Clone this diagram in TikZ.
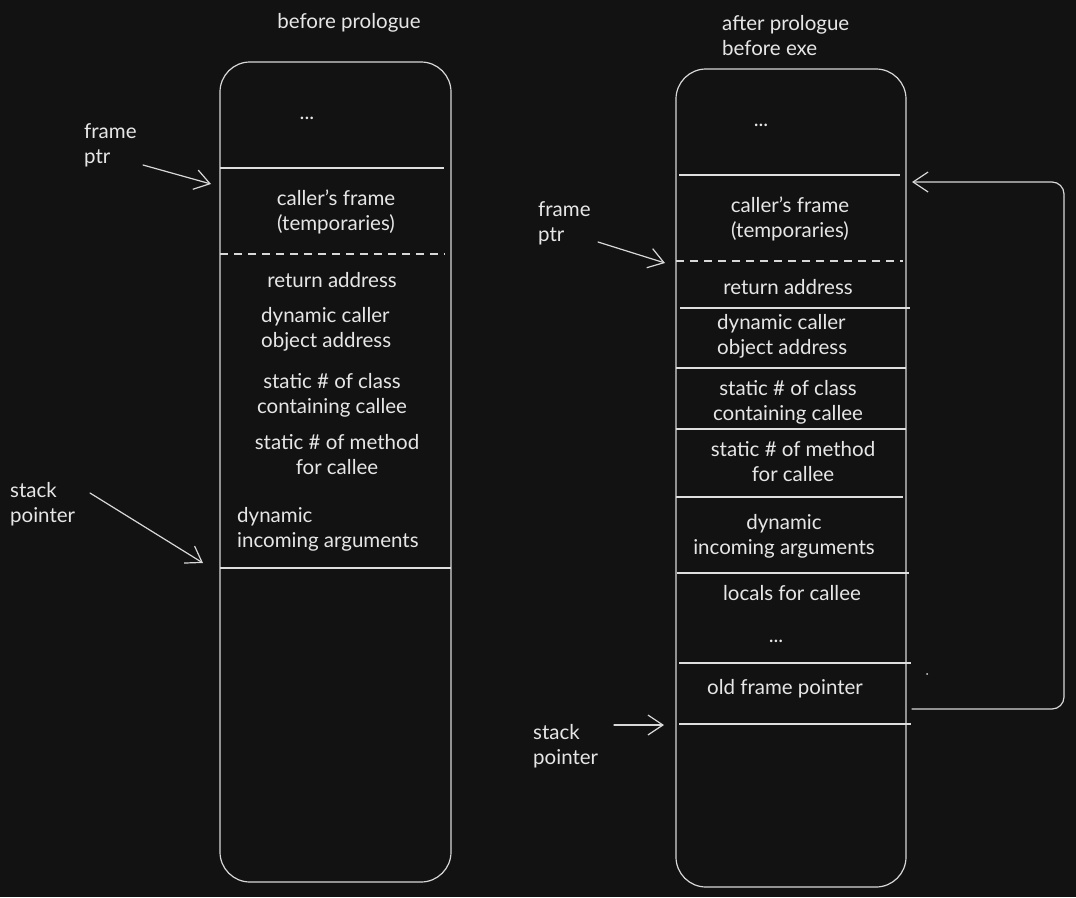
\documentclass[tikz,border=0pt]{standalone}
\usepackage{fontspec}
\setmainfont{Lato}
\usetikzlibrary{arrows.meta,positioning}
\definecolor{bgdark}{HTML}{121212}
\definecolor{inkline}{HTML}{D8D8D8}
\definecolor{inktext}{HTML}{E6E6E6}

\begin{document}
\begin{tikzpicture}[x=1pt, y=-1pt,
  font=\fontsize{20.5}{25}\selectfont,
  every node/.style={inner sep=0pt, text=inktext},
  stackbox/.style={draw=inkline, line width=1.2pt, rounded corners=30pt},
  sepline/.style={draw=inkline!85, line width=1.5pt},
  dashline/.style={draw=inkline, line width=1.2pt, dash pattern=on 8pt off 6pt},
  ptrarrow/.style={draw=inkline, line width=1.2pt, line cap=round,
    -{Straight Barb[length=15pt, width=20pt, line width=1.2pt]}}]
% background and page size
\fill[bgdark] (0,0) rectangle (1076,897);
\useasboundingbox (0,0) rectangle (1076,897);
% =================== left stack: before prologue ===================
\begin{scope}
\draw[stackbox] (220,62) rectangle (451,882);
\draw[sepline] (220,168) -- (444,168);
\draw[dashline] (220,254) -- (445,254);
\draw[sepline] (220,568) -- (451,568);
\node (titleL) at (349,23) {before prologue};
\node (dotsL) at (307,118) {...};
\node[align=center] (callerL) at (336,212) {caller's frame\\(temporaries)};
\node (retL) at (332,280) {return address};
\node[align=left, anchor=west] (dynL) at (261,329) {dynamic caller\\object address};
\node[align=center] (classL) at (332,395) {static \# of class\\containing callee};
\node[align=center] (methL) at (337,455) {static \# of method\\for callee};
\node[align=left, anchor=west] (argsL) at (237,529) {dynamic\\incoming arguments};
% pointers
\node[align=left, anchor=west] (fpL) at (84,145) {frame\\ptr};
\node[align=left, anchor=west] (spL) at (10,504) {stack\\pointer};
\coordinate (fpLtail) at (143,165);
\coordinate (fpLhead) at (211,184);
\coordinate (spLtail) at (90,493);
\coordinate (spLhead) at (203,563);
\draw[ptrarrow] (fpLtail) -- (fpLhead);
\draw[ptrarrow] (spLtail) -- (spLhead);
\end{scope}
% =================== right stack: after prologue ===================
\begin{scope}
\draw[stackbox] (676,69) rectangle (906,887);
\foreach \y/\xa/\xb in {175/679/900, 308/680/910, 368/676/906, 429/676/906,
                        497/676/903, 573/677/909, 663/679/911, 724/679/911}{
  \draw[sepline] (\xa,\y) -- (\xb,\y);
}
\draw[dashline] (676,261) -- (903,261);
\node[align=left, anchor=west] (titleR) at (722,36) {after prologue\\before exe};
\node (dotsR) at (761,125) {...};
\node[align=center] (callerR) at (790,219) {caller's frame\\(temporaries)};
\node (retR) at (788,287) {return address};
\node[align=left, anchor=west] (dynR) at (717,336) {dynamic caller\\object address};
\node[align=center] (classR) at (788,402) {static \# of class\\containing callee};
\node[align=center] (methR) at (793,462) {static \# of method\\for callee};
\node[align=center] (argsR) at (784,536) {dynamic\\incoming arguments};
\node (localsR) at (792,593) {locals for callee};
\node (dotsR2) at (776,641) {...};
\node (oldfpR) at (785,689) {old frame pointer};
% pointers
\node[align=left, anchor=west] (fpR) at (538,223) {frame\\ptr};
\node[align=left, anchor=west] (spR) at (533,746) {stack\\pointer};
\coordinate (fpRtail) at (598,242);
\coordinate (fpRhead) at (665,263);
\coordinate (spRtail) at (614,725);
\coordinate (spRhead) at (664,725);
\draw[ptrarrow] (fpRtail) -- (fpRhead);
\draw[ptrarrow] (spRtail) -- (spRhead);
% old frame pointer links back to caller's frame
\coordinate (linkA) at (912,709);
\coordinate (linkB) at (912,182);
\draw[ptrarrow, rounded corners=12pt] (linkA) -- (1064,709) |- (linkB);
\fill[inkline] (927,674) circle (1pt);
\end{scope}
\end{tikzpicture}
\end{document}
